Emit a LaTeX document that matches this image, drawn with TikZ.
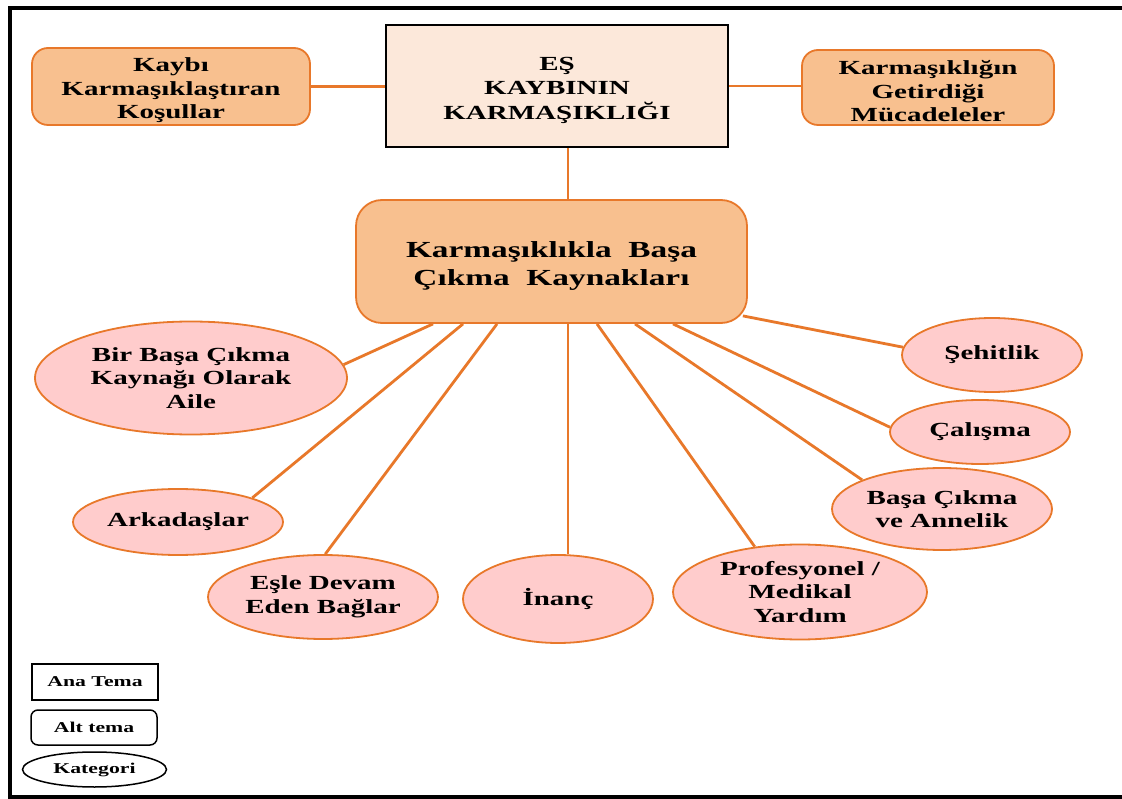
\documentclass[tikz,border=0pt]{standalone}
\usepackage{fontspec}
\setmainfont{Liberation Serif}[FakeStretch=1.45]
\usetikzlibrary{shapes.geometric,calc}

\definecolor{lineor}{HTML}{E8782A}
\definecolor{boxor}{HTML}{F8C08F}
\definecolor{peach}{HTML}{FCE8DA}
\definecolor{pinkfill}{HTML}{FFCCCC}

\tikzset{
  base/.style={font=\bfseries\fontsize{20}{23.5}\selectfont, align=center, inner sep=0pt},
  theme/.style={base, font=\bfseries\fontsize{20}{24.5}\selectfont, draw=black, line width=2pt,
                fill=peach, text height=71pt},
  subtheme/.style={base, draw=lineor, line width=1.8pt, fill=boxor, rounded corners=16pt,
                   text height=69pt},
  cat/.style={base, ellipse, draw=lineor, line width=1.8pt, fill=pinkfill},
  link/.style={draw=lineor, line width=2.8pt},
  legendbox/.style={font=\bfseries\fontsize{15}{18}\selectfont, align=center, draw=black,
                    line width=1.5pt, fill=white, inner sep=0pt},
}

\begin{document}
\begin{tikzpicture}[x=1pt,y=-1pt]
\useasboundingbox (0,0) rectangle (1122,799);
\fill[white] (0,0) rectangle (1122,799);

% outer frame (open on the right)
\draw[line width=3.5pt] (1122,8) -- (10,8) -- (10,797) -- (1122,797);

% main theme and its sub-themes
\node[theme, minimum width=342pt, minimum height=122pt] (main) at (557,86)
  {EŞ\\KAYBININ\\KARMAŞIKLIĞI};
\node[subtheme, minimum width=278pt, minimum height=77pt] (left) at (171,86.5)
  {Kaybı\\Karmaşıklaştıran\\Koşullar};
\node[subtheme, minimum width=252pt, minimum height=75pt] (right) at (928,87.5)
  {Karmaşıklığın\\Getirdiği\\Mücadeleler};
\node[subtheme, rounded corners=26pt, font=\bfseries\fontsize{23}{28}\selectfont,
      text height=53pt, minimum width=391pt, minimum height=123pt] (mid) at (551.5,261.5)
  {Karmaşıklıkla\ \ Başa\\Çıkma\ \ Kaynakları};

% categories
\node[cat, minimum width=312pt, minimum height=113pt] (e1) at (191,378)
  {Bir Başa Çıkma\\Kaynağı Olarak\\Aile};
\node[cat, minimum width=210pt, minimum height=66pt] (e2) at (178,522) {Arkadaşlar};
\node[cat, minimum width=230pt, minimum height=84pt] (e3) at (323,597)
  {Eşle Devam\\Eden Bağlar};
\node[cat, minimum width=190pt, minimum height=88pt] (e4) at (558,599) {İnanç};
\node[cat, minimum width=254pt, minimum height=95pt] (e5) at (800,592)
  {Profesyonel /\\Medikal\\Yardım};
\node[cat, minimum width=220pt, minimum height=82pt] (e6) at (942,509)
  {Başa Çıkma\\ve Annelik};
\node[cat, minimum width=180pt, minimum height=64pt] (e7) at (980,432) {Çalışma};
\node[cat, minimum width=180pt, minimum height=74pt] (e8) at (992,355) {Şehitlik};

% connectors
\draw[link] (left.east) -- (left.east -| main.west);
\draw[link] (main.east) -- (main.east -| right.west);
\draw[link] ([xshift=11pt]main.south) -- ([xshift=11pt]main.south |- mid.north);

\draw[link] ([xshift=-118.5pt]mid.south) -- (e1.5);
\draw[link] ([xshift=-88.5pt]mid.south) -- (e2.18);
\draw[link] ([xshift=-54.5pt]mid.south) -- (e3.87);
\draw[link] ([xshift=16.5pt]mid.south) -- ([xshift=16.5pt]mid.south |- e4.north);
\draw[link] ([xshift=45.5pt]mid.south) -- (e5.135);
\draw[link] ([xshift=83.5pt]mid.south) -- (e6.160);
\draw[link] ([xshift=121.5pt]mid.south) -- (e7.177);
\draw[link] ([xshift=-5pt,yshift=8pt]mid.south east) -- (e8.175);

% legend
\node[legendbox, minimum width=126pt, minimum height=36pt] (lt) at (95,682) {Ana Tema};
\node[legendbox, rounded corners=7pt, minimum width=126pt, minimum height=35pt] (ls) at (94,727.5) {Alt tema};
\node[legendbox, ellipse, minimum width=144pt, minimum height=35pt] (lc) at (94.5,769.5) {Kategori};
\end{tikzpicture}
\end{document}
